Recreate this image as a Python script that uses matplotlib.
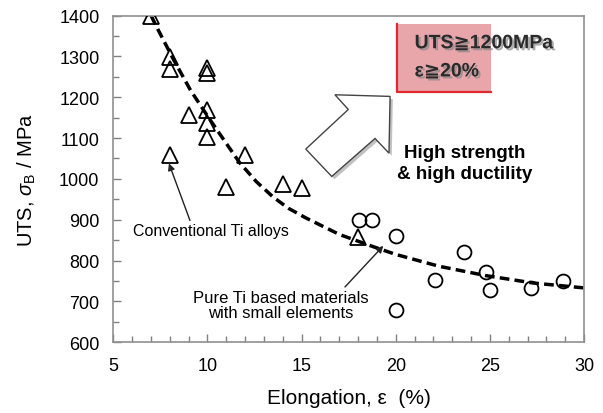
import numpy as np
import matplotlib
matplotlib.use("Agg")
import matplotlib.pyplot as plt
import matplotlib.patheffects as pe
from matplotlib.patches import Polygon, Rectangle

plt.rcParams['font.family'] = ['Liberation Sans', 'DejaVu Sans']
plt.rcParams['mathtext.fontset'] = 'custom'
plt.rcParams['mathtext.rm'] = 'Liberation Sans'
plt.rcParams['mathtext.it'] = 'Liberation Sans:italic'

# conventional Ti alloys (triangles)
ti_elong = [7, 8, 8, 10, 10, 9, 10, 10, 10, 8, 12, 11, 14, 15, 18]
ti_uts = [1400, 1298, 1268, 1272, 1260, 1156, 1168, 1138, 1102, 1058, 1058, 980, 987, 977, 857]

# pure Ti based materials (circles)
pure_elong = [18.05, 18.75, 20, 22.1, 23.6, 24.8, 25, 27.2, 28.9, 20]
pure_uts = [900, 900, 859, 752, 822, 772, 729, 733, 750, 680]

# trend line
trend_x = [7, 7.3, 8.2, 9.1, 10, 10.8, 11.7, 12.6, 13.5, 14.3, 15.2, 17, 18.8, 20, 22.3, 24.8, 27.3, 30]
trend_y = [1400, 1372, 1292, 1217, 1154, 1100, 1040, 993, 955, 928, 905, 864, 834, 815, 786, 763, 745, 733]

fig = plt.figure(figsize=(6.03, 4.14), dpi=100)
ax = fig.add_axes([0.188, 0.171, 0.7805, 0.789])

ax.plot(trend_x, trend_y, color='black', lw=2.5, ls=(0, (2.8, 1.5)), zorder=2)
ax.plot(ti_elong, ti_uts, ls='none', marker='^', ms=11, mfc='none', mec='black', mew=1.3, zorder=3)
ax.plot(pure_elong, pure_uts, ls='none', marker='o', ms=10, mfc='none', mec='black', mew=1.3, zorder=3)

ax.set_xlim(5, 30)
ax.set_ylim(600, 1400)
ax.set_xticks([5, 10, 15, 20, 25, 30])
ax.set_yticks(range(600, 1401, 100))
ax.set_xticks(np.arange(5, 31, 1), minor=True)
ax.set_yticks(range(600, 1401, 50), minor=True)
ax.tick_params(which='both', direction='in', color='#808080', labelsize=13, top=False, right=False)
ax.tick_params(which='major', length=6, width=1)
ax.tick_params(which='minor', length=4, width=1)
ax.tick_params(axis='y', pad=10)
ax.tick_params(axis='x', pad=11)
for s in ax.spines.values():
    s.set_color('#909090')
    s.set_linewidth(1.2)

ax.set_xlabel('Elongation, \u03b5  (%)', fontsize=15, labelpad=10)
ax.set_ylabel('UTS, $\\sigma_\\mathrm{B}$ / MPa', fontsize=14.5, labelpad=15)

# annotations
ax.annotate('Conventional Ti alloys', xy=(7.95, 1038), xytext=(10.2, 873),
            ha='center', va='center', fontsize=11.5,
            arrowprops=dict(arrowstyle='-|>', color='#222222', lw=1, mutation_scale=10, shrinkA=0, shrinkB=0,
                            relpos=(0.37, 1.0)))
ax.annotate('Pure Ti based materials\nwith small elements', xy=(19.34, 836), xytext=(13.9, 691),
            ha='center', va='center', fontsize=12, linespacing=1.05,
            arrowprops=dict(arrowstyle='-|>', color='#222222', lw=1, mutation_scale=10, shrinkA=0, shrinkB=0,
                            relpos=(0.85, 1.0)))

ax.text(23.65, 1040, 'High strength\n& high ductility', ha='center', va='center',
        fontsize=13.5, fontweight='bold', linespacing=1.3)

# big open arrow
arrow = Polygon([(19.70, 1202), (19.64, 1063), (18.90, 1099), (16.60, 1006),
                 (15.22, 1073), (17.48, 1170), (16.77, 1206)], closed=True,
                facecolor='white', edgecolor='#444444', lw=1, zorder=4,
                path_effects=[pe.SimplePatchShadow(offset=(2, -2), shadow_rgbFace='#999999', alpha=0.6), pe.Normal()])
ax.add_patch(arrow)

# target box
box = Rectangle((20.05, 1214), 5.0, 165, facecolor='#e8a6ab', edgecolor='none', zorder=4)
ax.add_patch(box)
ax.plot([20.05, 20.05, 25.05], [1379, 1214, 1214], color='#e0282e', lw=1.6, zorder=5)
sh = [pe.withSimplePatchShadow(offset=(1.5, -1.5), shadow_rgbFace='#888888', alpha=0.7)]
ax.text(21.0, 1331, 'UTS\u22671200MPa', fontsize=14, fontweight='bold', color='#2a2a2a',
        ha='left', va='center', zorder=6, path_effects=sh)
ax.text(21.0, 1262, '\u03b5\u226720%', fontsize=14, fontweight='bold', color='#2a2a2a',
        ha='left', va='center', zorder=6, path_effects=sh)

fig.savefig('out.png', dpi=100)
